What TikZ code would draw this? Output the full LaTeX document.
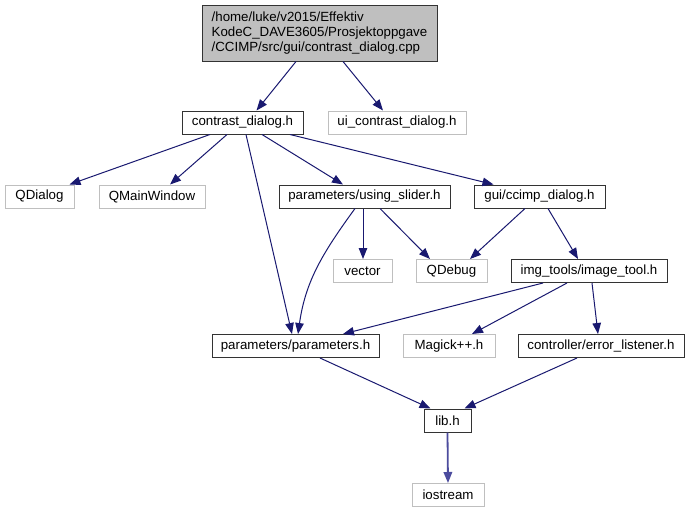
\documentclass[tikz,border=0pt]{standalone}
\usepackage{fontspec}
\setmainfont{Liberation Sans}
\usetikzlibrary{arrows.meta}
\definecolor{edgec}{HTML}{191970}
\definecolor{edgel}{HTML}{4C4C9E}
\definecolor{graybox}{HTML}{BFBFBF}
\definecolor{rootfill}{HTML}{BFBFBF}
\begin{document}
\begin{tikzpicture}[x=1pt,y=-1pt,
  box/.style={draw=black!80, line width=1pt, minimum height=23pt, inner sep=0pt,
    font=\fontsize{13.3}{15}\selectfont, anchor=center},
  ext/.style={box, draw=graybox, line width=1pt},
  dep/.style={draw=edgec, line width=1pt, -{Triangle[length=11pt,width=8.5pt]}}]
\useasboundingbox (0,0) rectangle (689,515);
\fill[white] (0,0) rectangle (689,515);

\node[box, fill=rootfill, minimum width=235pt, minimum height=56pt, align=left,
  font=\fontsize{13.3}{15}\selectfont] (root) at (319.5,33)
  {/home/luke/v2015/Effektiv\\KodeC\_DAVE3605/Prosjektoppgave\\/CCIMP/src/gui/contrast\_dialog.cpp};

\node[box, minimum width=121pt] (contrast) at (242.5,122.5) {contrast\_dialog.h};
\node[ext, minimum width=138pt] (ui) at (397,122.5) {ui\_contrast\_dialog.h};

\node[ext, minimum width=69pt] (qdialog) at (39.5,196.5) {QDialog};
\node[ext, minimum width=106pt] (qmain) at (152,196.5) {QMainWindow};
\node[box, minimum width=171pt] (slider) at (364.5,196.5) {parameters/using\_slider.h};
\node[box, minimum width=131pt] (ccimp) at (539.5,196.5) {gui/ccimp\_dialog.h};

\node[ext, minimum width=59pt] (vector) at (362.5,271) {vector};
\node[ext, minimum width=71pt] (qdebug) at (451.5,271) {QDebug};
\node[box, minimum width=156pt] (imgtool) at (589,271) {img\_tools/image\_tool.h};

\node[box, minimum width=167pt] (params) at (295.5,346) {parameters/parameters.h};
\node[ext, minimum width=92pt] (magick) at (449,346) {Magick++.h};
\node[box, minimum width=166pt] (errl) at (601,346) {controller/error\_listener.h};

\node[box, minimum width=47pt] (lib) at (447.5,420.5) {lib.h};
\node[ext, minimum width=72pt] (iostream) at (448,495) {iostream};

\draw[dep] ([xshift=-23.5pt]root.south) -- ([xshift=14pt]contrast.north);
\draw[dep] ([xshift=23.5pt]root.south) -- ([xshift=-14pt]ui.north);

\draw[dep] ([xshift=-32.5pt]contrast.south) -- ([xshift=30pt]qdialog.north);
\draw[dep] ([xshift=-15.5pt]contrast.south) -- ([xshift=18pt]qmain.north);
\draw[dep] ([xshift=3.5pt]contrast.south) -- ([xshift=-3.5pt]params.north);
\draw[dep] ([xshift=19.5pt]contrast.south) -- ([xshift=-21.5pt]slider.north);
\draw[dep] ([xshift=47.5pt]contrast.south) -- ([xshift=-46pt]ccimp.north);

\draw[dep] ([xshift=-9.5pt]slider.south) to[out=-126,in=82] ([xshift=2.5pt]params.north);
\draw[dep] ([xshift=-1.5pt]slider.south) -- ([xshift=0.5pt]vector.north);
\draw[dep] ([xshift=15.5pt]slider.south) -- ([xshift=-21.5pt]qdebug.north);

\draw[dep] ([xshift=-14.5pt]ccimp.south) -- ([xshift=18.5pt]qdebug.north);
\draw[dep] ([xshift=8.5pt]ccimp.south) -- ([xshift=-11pt]imgtool.north);

\draw[dep] ([xshift=-46pt]imgtool.south) -- ([xshift=47.5pt]params.north);
\draw[dep] ([xshift=-22pt]imgtool.south) -- ([xshift=23pt]magick.north);
\draw[dep] ([xshift=3pt]imgtool.south) -- ([xshift=-3pt]errl.north);

\draw[dep] ([xshift=24.5pt]params.south) -- ([xshift=-17pt]lib.north);
\draw[dep] ([xshift=-24pt]errl.south) -- ([xshift=17pt]lib.north);

\draw[dep, draw=edgel, line width=1.8pt, -{Triangle[length=11pt,width=8.5pt]}] (lib.south) -- (iostream.north);
\end{tikzpicture}
\end{document}
